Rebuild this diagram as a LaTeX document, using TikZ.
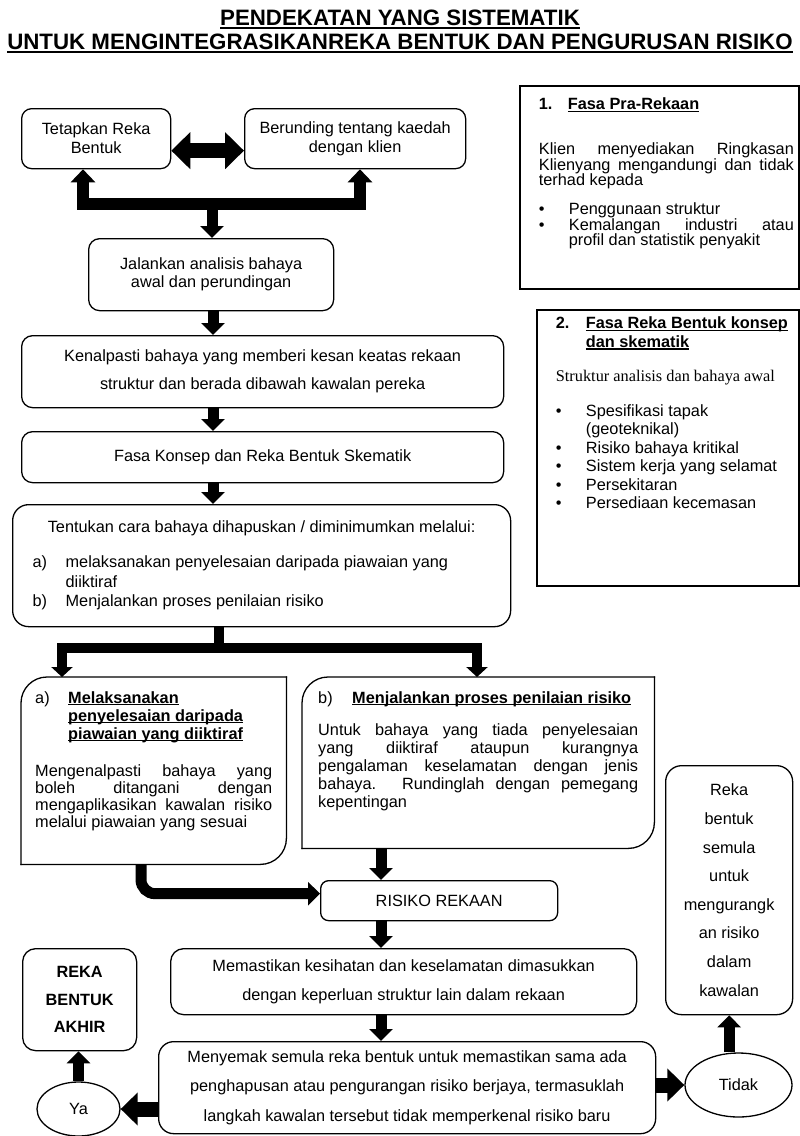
\documentclass[tikz,border=0pt]{standalone}
\usepackage{fontspec}
\setmainfont{Liberation Sans}
\newfontfamily\serifpart{Liberation Serif}
\usetikzlibrary{arrows.meta,shapes.geometric}
\hyphenpenalty=10000
\exhyphenpenalty=10000
\newcommand\ulx[1]{\setbox0=\hbox{#1}\rlap{\rule[-0.14em]{\wd0}{0.08em}}\box0}
\newcommand\bul[1]{\par\noindent\hangindent=30pt\hangafter=1\makebox[30pt][l]{\textbullet}#1}
\newcommand\tailgap[1]{\par\noindent\rule{0pt}{#1}}
\newcommand\bodyfont{\fontsize{16.3}{19}\selectfont}
\tikzset{
  box/.style={draw,line width=1.3pt,rounded corners=11pt,anchor=north west,align=center,inner sep=0pt,font=\bodyfont},
  listbox/.style={box,align=justify},
  leaf/.style={anchor=north west,align=justify,font=\bodyfont},
  leafline/.style={line width=1.3pt,rounded corners=26pt,line cap=rect},
  panel/.style={draw,line width=1.8pt,anchor=north west,align=justify,font=\bodyfont},
  oval/.style={ellipse,draw,line width=1.3pt,inner sep=0pt,font=\bodyfont},
  titletext/.style={anchor=north,align=center,inner sep=0pt,font=\fontsize{22.3}{24}\selectfont\bfseries},
  fat/.style={line width=11pt,-{Triangle[length=12pt,width=23pt]}},
  fatter/.style={line width=15pt,-{Triangle[length=17pt,width=32pt]}},
  fatpair/.style={line width=12pt,{Triangle[length=13pt,width=24pt]}-{Triangle[length=13pt,width=24pt]}},
  downpair/.style={line width=10pt,{Triangle[length=10pt,width=21pt]}-{Triangle[length=10pt,width=21pt]}},
  twoway/.style={line width=15pt,{Triangle[length=19pt,width=36pt]}-{Triangle[length=19pt,width=36pt]}},
  bar/.style={line width=10pt}
}
\begin{document}
\begin{tikzpicture}[x=1pt,y=-1pt]
  \fill[white] (0,0) rectangle (800,1136);
  \useasboundingbox (0,0) rectangle (800,1136);
  \node[titletext] (title) at (400,10) {\ulx{PENDEKATAN YANG SISTEMATIK}\\\ulx{UNTUK MENGINTEGRASIKANREKA BENTUK DAN PENGURUSAN RISIKO}};

  \node[box,minimum width=149pt,minimum height=60pt,rounded corners=10pt] (tetap) at (21,108) {Tetapkan Reka\\Bentuk};
  \node[box,minimum width=221pt,minimum height=60pt,rounded corners=10pt] (berun) at (244,108) {Berunding tentang kaedah\\dengan klien};
  \node[box,minimum width=245pt,minimum height=72pt,font=\fontsize{16.3}{18}\selectfont] (jalan) at (88,238) {Jalankan analisis bahaya\\awal dan perundingan};
  \node[box,minimum width=482pt,minimum height=72pt,font=\fontsize{16.3}{28}\selectfont] (kenal) at (21,335) {Kenalpasti bahaya yang memberi kesan keatas rekaan\\struktur dan berada dibawah kawalan pereka};
  \node[box,minimum width=482pt,minimum height=51pt] (fasa) at (21,431) {Fasa Konsep dan Reka Bentuk Skematik};
  \node[listbox,text width=458pt,inner xsep=20pt,minimum width=498pt,minimum height=122pt,rounded corners=16pt] (tentu) at (12,504) {%
    \fontsize{16.3}{20}\selectfont
    {\centering Tentukan cara bahaya dihapuskan / diminimumkan melalui:\par}
    \vspace{15pt}
    \noindent\hangindent=33pt\hangafter=1\makebox[33pt][l]{a)}melaksanakan penyelesaian daripada piawaian yang\newline diiktiraf\par
    \noindent\makebox[33pt][l]{b)}Menjalankan proses penilaian risiko};

  \node[leaf,text width=237pt,inner xsep=14pt,inner ysep=14pt,minimum width=265pt,minimum height=187pt] (boxa) at (21,677) {%
    \fontsize{16.3}{18}\selectfont
    \noindent\hangindent=33pt\hangafter=1\makebox[33pt][l]{a)}\textbf{\ulx{Melaksanakan}}\newline
    \textbf{\ulx{penyelesaian daripada}}\newline
    \textbf{\ulx{piawaian yang diiktiraf}}\par
    \fontsize{16.3}{17}\selectfont\vspace{20pt}
    Mengenalpasti bahaya yang\linebreak boleh ditangani dengan\linebreak
    mengaplikasikan kawalan risiko\linebreak melalui piawaian yang sesuai
    \tailgap{18.5pt}};
  \draw[leafline] (boxa.south west) -- (boxa.north west) -- (boxa.north east);
  \draw[leafline] (boxa.north east) -- (boxa.south east) -- (boxa.south west);

  \node[leaf,text width=320pt,inner xsep=16pt,inner ysep=14pt,minimum width=351pt,minimum height=171pt] (boxb) at (302,677) {%
    \fontsize{16.3}{18}\selectfont
    \noindent\makebox[34pt][l]{b)}\textbf{\ulx{Menjalankan proses penilaian risiko}}\par
    \vspace{14.5pt}
    Untuk bahaya yang tiada penyelesaian\linebreak yang diiktiraf ataupun kurangnya\linebreak
    pengalaman keselamatan dengan jenis\linebreak bahaya. Rundinglah dengan pemegang\linebreak
    kepentingan
    \tailgap{22pt}};
  \draw[leafline] (boxb.south west) -- (boxb.north west) -- (boxb.north east);
  \draw[leafline] (boxb.north east) -- (boxb.south east) -- (boxb.south west);

  \node[box,minimum width=237pt,minimum height=40pt,rounded corners=8pt] (risiko) at (320,880) {RISIKO REKAAN};
  \node[box,minimum width=466pt,minimum height=66pt,rounded corners=13pt,font=\fontsize{16.3}{29}\selectfont] (pasti) at (170,948) {Memastikan kesihatan dan keselamatan dimasukkan\\dengan keperluan struktur lain dalam rekaan};
  \node[box,minimum width=497pt,minimum height=92pt,rounded corners=15pt,font=\fontsize{16.3}{29.5}\selectfont] (semak) at (158,1041) {Menyemak semula reka bentuk untuk memastikan sama ada\\penghapusan atau pengurangan risiko berjaya, termasuklah\\langkah kawalan tersebut tidak memperkenal risiko baru};
  \node[box,minimum width=114pt,minimum height=102pt,rounded corners=13pt,font=\fontsize{16.3}{27.5}\selectfont\bfseries] (akhir) at (22,948) {REKA\\BENTUK\\AKHIR};
  \node[box,minimum width=127pt,minimum height=249pt,rounded corners=16pt,font=\fontsize{16.3}{28.6}\selectfont] (semula) at (665,765) {Reka\\bentuk\\semula\\untuk\\mengurangk\\an risiko\\dalam\\kawalan};
  \node[oval,minimum width=83pt,minimum height=54pt] (ya) at (78.5,1109) {Ya};
  \node[oval,minimum width=107pt,minimum height=64pt] (tidak) at (738.5,1085) {Tidak};

  \node[panel,text width=269pt,inner xsep=5pt,inner ysep=12pt,minimum width=279pt,minimum height=203pt] (pra) at (519,85) {%
    \fontsize{16.3}{15.5}\selectfont\leftskip=14pt
    \noindent\makebox[29pt][l]{\textbf{1.}}\textbf{\ulx{Fasa Pra-Rekaan}}\par
    \vspace{29.5pt}
    Klien menyediakan Ringkasan\linebreak Klienyang mengandungi dan tidak\linebreak terhad kepada\par
    \vspace{13.5pt}
    \bul{Penggunaan struktur}
    \bul{Kemalangan industri atau\linebreak profil dan statistik penyakit}
    \tailgap{27pt}};
  \node[panel,text width=250pt,inner xsep=6pt,inner ysep=6pt,minimum width=262pt,minimum height=276pt] (konsep) at (536,309) {%
    \fontsize{16.3}{18.5}\selectfont\leftskip=13pt
    \noindent\hangindent=30pt\hangafter=1\makebox[30pt][l]{\textbf{2.}}\textbf{\ulx{Fasa Reka Bentuk konsep}}\newline\textbf{\ulx{dan skematik}}\par
    \vspace{15.5pt}
    {\serifpart Struktur analisis dan bahaya awal}\par
    \vspace{16.5pt}
    \bul{Spesifikasi tapak\newline (geoteknikal)}
    \bul{Risiko bahaya kritikal}
    \bul{Sistem kerja yang selamat}
    \bul{Persekitaran}
    \bul{Persediaan kecemasan}
    \tailgap{68.5pt}};

  \coordinate (barL) at (83,204);
  \coordinate (barR) at (360,204);
  \coordinate (barM) at (212,204);
  \coordinate (trunk) at (213,0);
  \coordinate (lowL) at (62,648);
  \coordinate (lowR) at (477,648);
  \coordinate (lowM) at (219,648);
  \coordinate (aOut) at (141,0);
  \coordinate (spine) at (381,0);

  \draw[twoway] ([yshift=-12pt]tetap.east) -- ([yshift=-12pt]berun.west);
  \draw[fatpair] (barL |- tetap.south) -- (barL) -- (barR) -- (barR |- berun.south);
  \draw[fat] (barM) -- (barM |- jalan.north);
  \draw[fat] (jalan.south -| trunk) -- (kenal.north -| trunk);
  \draw[fat] (kenal.south -| trunk) -- (fasa.north -| trunk);
  \draw[fat] (fasa.south -| trunk) -- (tentu.north -| trunk);
  \draw[bar] (tentu.south -| lowM) -- (lowM);
  \draw[downpair] (lowL |- boxa.north) -- (lowL) -- (lowR) -- (lowR |- boxb.north);
  \draw[fat,rounded corners=14pt] (boxa.south -| aOut) |- ([yshift=7pt]risiko.west);
  \draw[fat] (boxb.south -| spine) -- (risiko.north -| spine);
  \draw[fat] (risiko.south -| spine) -- (pasti.north -| spine);
  \draw[fat] (pasti.south -| spine) -- (semak.north -| spine);
  \draw[fatter] (semak.west |- ya.east) -- (ya.east);
  \draw[fat] (ya.north) -- (ya.north |- akhir.south);
  \draw[fatter] (semak.east |- tidak.west) -- (tidak.west);
  \draw[fat] (semula.south |- tidak.north) -- (semula.south);
\end{tikzpicture}
\end{document}
